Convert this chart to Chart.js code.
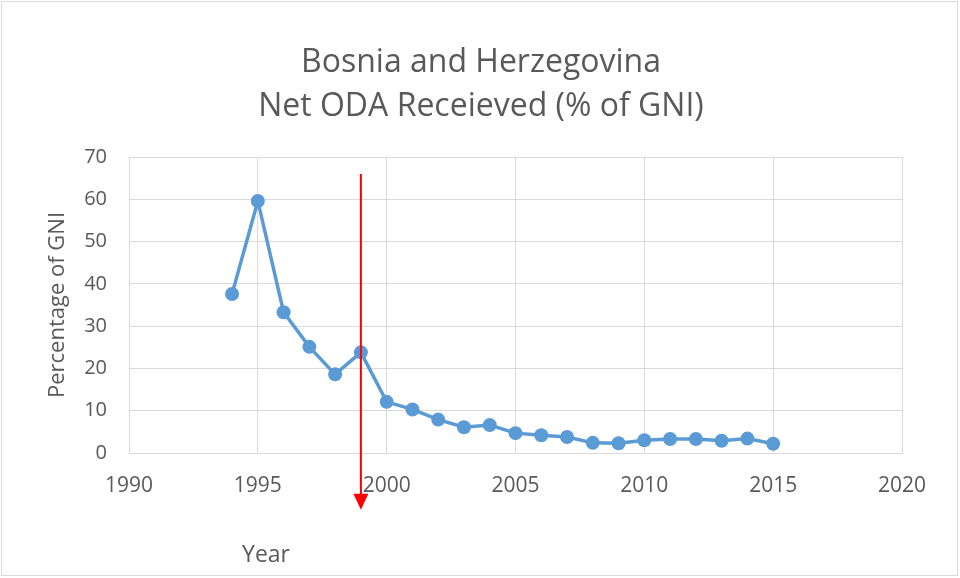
<!DOCTYPE html>
<html>
<head>
<meta charset="utf-8">
<script src="https://cdn.jsdelivr.net/npm/chart.js@4"></script>
<style>
  html, body { margin: 0; padding: 0; background: #fff; }
  #wrap { width: 960px; height: 578px; }
</style>
</head>
<body>
<div id="wrap"><canvas id="odaChart" width="960" height="578"></canvas></div>
<script>
const titleLines = ["Bosnia and Herzegovina", "Net ODA Receieved (% of GNI)"];
const years = [1994, 1995, 1996, 1997, 1998, 1999, 2000, 2001, 2002, 2003, 2004,
  2005, 2006, 2007, 2008, 2009, 2010, 2011, 2012, 2013, 2014, 2015];
const odaPct = [37.6, 59.6, 33.3, 25.1, 18.6, 23.8, 12.1, 10.3, 7.9, 6.1, 6.6,
  4.7, 4.2, 3.8, 2.4, 2.3, 3.0, 3.3, 3.3, 2.9, 3.4, 2.2];
const xTicks = [1990, 1995, 2000, 2005, 2010, 2015, 2020];
const yTicks = [0, 10, 20, 30, 40, 50, 60, 70];
// red marker arrow: year, top value, tip value
const arrowYear = 1999;
const arrowFrom = 66;
const arrowTo = -13.4;

const grey = "#595959";
const font = "'Open Sans', 'DejaVu Sans', sans-serif";

const decorPlugin = {
  id: "decor",
  beforeDraw(chart) {
    const ctx = chart.ctx;
    ctx.save();
    ctx.strokeStyle = "#d9d9d9";
    ctx.lineWidth = 1;
    ctx.strokeRect(1.5, 1.5, 956, 574);
    ctx.restore();
  },
  afterDraw(chart) {
    const ctx = chart.ctx;
    const xs = chart.scales.x, ys = chart.scales.y;
    const area = chart.chartArea;
    ctx.save();
    // title
    ctx.fillStyle = grey;
    ctx.textAlign = "center";
    ctx.textBaseline = "alphabetic";
    ctx.font = "32px " + font;
    titleLines.forEach((t, i) => ctx.fillText(t, 481, 72 + i * 44));
    // x axis title
    ctx.font = "23px " + font;
    ctx.fillText("Year", area.left + 137, 562);
    // arrow
    const ax = xs.getPixelForValue(arrowYear);
    const y1 = ys.getPixelForValue(arrowFrom);
    const y2 = ys.getPixelForValue(arrowTo);
    ctx.strokeStyle = "#ff0000";
    ctx.fillStyle = "#ff0000";
    ctx.lineWidth = 2;
    ctx.beginPath();
    ctx.moveTo(ax, y1);
    ctx.lineTo(ax, y2 - 14);
    ctx.stroke();
    ctx.beginPath();
    ctx.moveTo(ax - 7.5, y2 - 16);
    ctx.lineTo(ax + 7.5, y2 - 16);
    ctx.lineTo(ax, y2);
    ctx.closePath();
    ctx.fill();
    ctx.restore();
  }
};

new Chart(document.getElementById("odaChart"), {
  type: "line",
  data: {
    datasets: [{
      label: "Net ODA received (% of GNI)",
      data: years.map((y, i) => ({ x: y, y: odaPct[i] })),
      borderColor: "#5b9bd5",
      backgroundColor: "#5b9bd5",
      borderWidth: 3.5,
      pointRadius: 7,
      pointBorderWidth: 0,
      pointBackgroundColor: "#5b9bd5",
      tension: 0
    }]
  },
  options: {
    responsive: false,
    animation: false,
    layout: { padding: { top: 157, left: 0, right: 58, bottom: 0 } },
    plugins: {
      legend: { display: false },
      title: { display: false },
      tooltip: { enabled: false }
    },
    scales: {
      x: {
        type: "linear",
        min: xTicks[0],
        max: xTicks[xTicks.length - 1],
        afterBuildTicks(scale) { scale.ticks = xTicks.map(v => ({ value: v })); },
        afterFit(scale) { scale.height = 125; },
        grid: { color: "#d9d9d9", drawTicks: false },
        border: { color: "#d9d9d9" },
        ticks: {
          color: grey,
          font: { family: font, size: 21 },
          padding: 20,
          maxRotation: 0,
          callback: v => String(v)
        }
      },
      y: {
        min: yTicks[0],
        max: yTicks[yTicks.length - 1],
        afterBuildTicks(scale) { scale.ticks = yTicks.map(v => ({ value: v })); },
        afterFit(scale) { scale.width = 129; },
        grid: { color: "#d9d9d9", drawTicks: false },
        border: { color: "#d9d9d9" },
        ticks: { color: grey, font: { family: font, size: 20 }, padding: 22 },
        title: {
          display: true,
          text: "Percentage of GNI",
          color: grey,
          font: { family: font, size: 22 },
          padding: { top: 45, bottom: 0 }
        }
      }
    }
  },
  plugins: [decorPlugin]
});
</script>
</body>
</html>
